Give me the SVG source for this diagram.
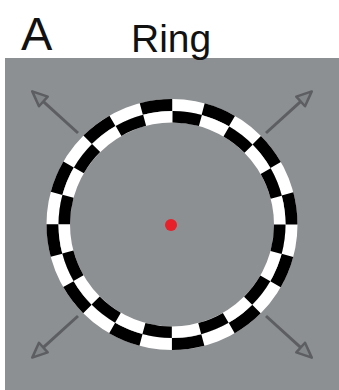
<svg xmlns="http://www.w3.org/2000/svg" width="339" height="390" viewBox="0 0 339 390">
  <style>
    .lbl { font-family: "Liberation Sans", Arial, sans-serif; fill: #111; }
    .arr { stroke: #5c5e61; stroke-width: 3; fill: none; marker-end: url(#head); }
  </style>
  <defs>
    <marker id="head" markerUnits="userSpaceOnUse" markerWidth="20" markerHeight="16" viewBox="0 0 20 16" refX="3" refY="8" orient="auto">
      <path d="M17,8 L2,1.5 L2,14.5 Z" fill="#84878a" stroke="#5c5e61" stroke-width="2.5" stroke-linejoin="round"/>
    </marker>
  </defs>
  <rect width="339" height="390" fill="#ffffff"/>
  <rect x="5" y="58" width="334" height="332" fill="#8d9093"/>
  <text class="lbl" x="21" y="50" font-size="47">A</text>
  <text class="lbl" x="131" y="52" font-size="39">Ring</text>

  <g id="ring">
    <circle cx="172" cy="224.5" r="119.5" fill="none" stroke="#ffffff" stroke-width="12"/>
    <circle cx="172" cy="224.5" r="119.5" fill="none" stroke="#000000" stroke-width="12" stroke-dasharray="31.285 31.285" stroke-dashoffset="31.285"/>
    <circle cx="172" cy="224.5" r="107.75" fill="none" stroke="#ffffff" stroke-width="11.5"/>
    <circle cx="172" cy="224.5" r="107.75" fill="none" stroke="#000000" stroke-width="11.5" stroke-dasharray="28.21 28.21" stroke-dashoffset="0"/>
  </g>

  <g id="fixation">
    <circle cx="171" cy="225" r="6" fill="#e8202a"/>
  </g>

  <g id="arrows">
    <line class="arr" x1="78" y1="133" x2="42.6" y2="100.8"/>
    <line class="arr" x1="266" y1="133" x2="301.4" y2="100.8"/>
    <line class="arr" x1="78" y1="316" x2="42.6" y2="348.2"/>
    <line class="arr" x1="266" y1="316" x2="301.4" y2="348.2"/>
  </g>
</svg>
